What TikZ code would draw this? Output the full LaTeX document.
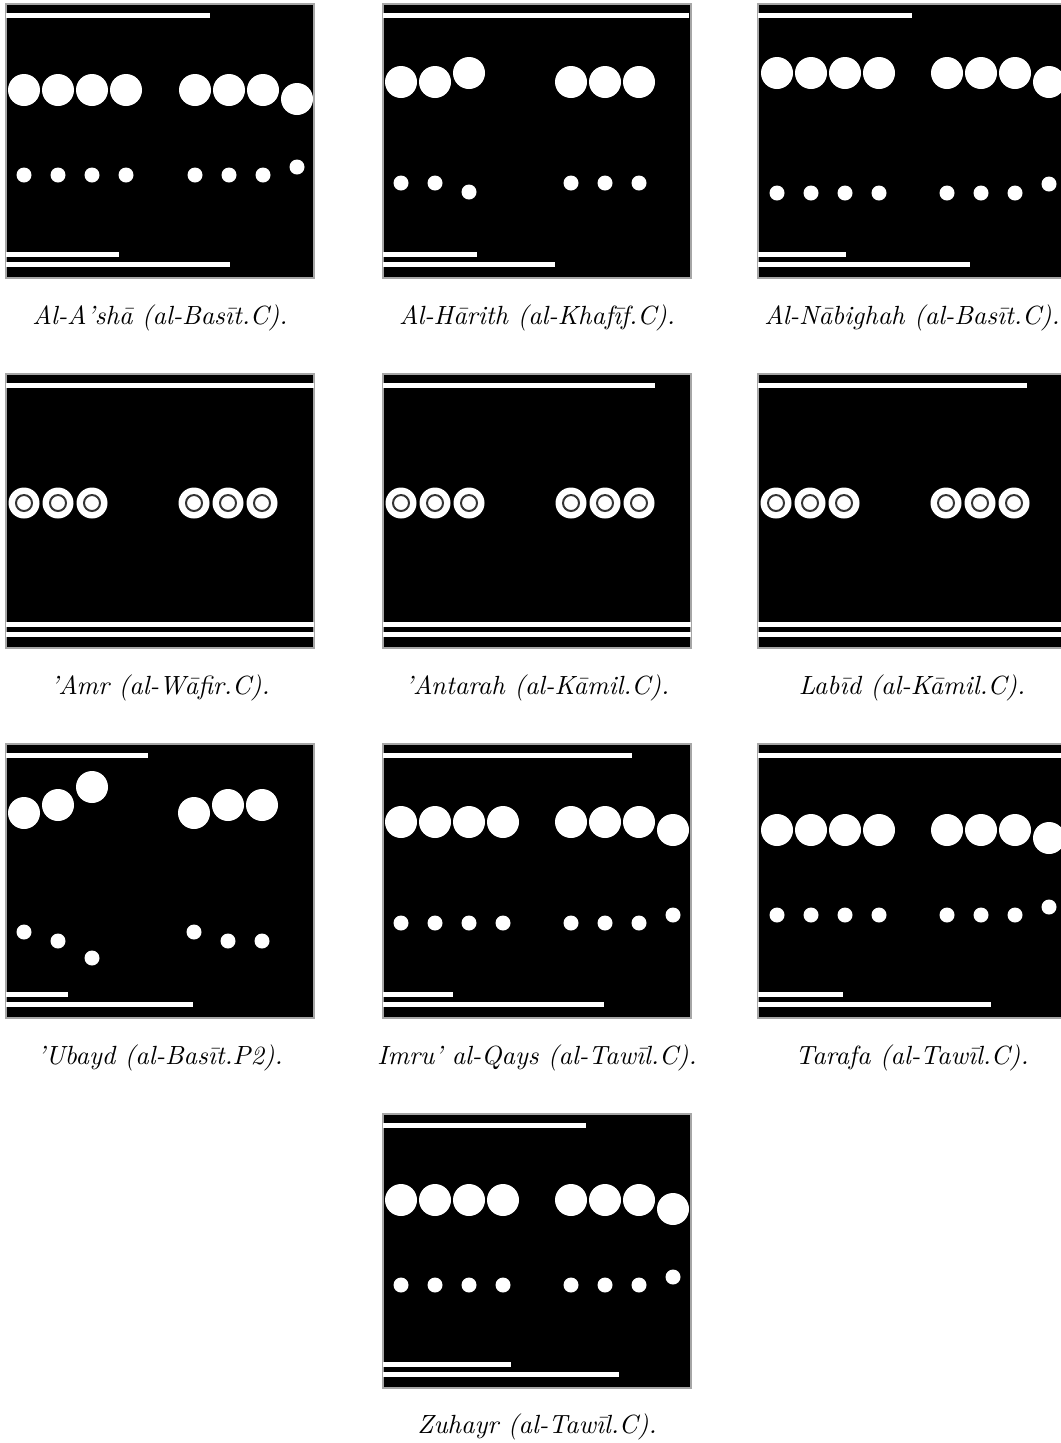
\documentclass[tikz,border=0pt]{standalone}
\usepackage{tikz}
\tikzset{every picture/.style={line width=0.75pt}}
\tikzset{
  mpanel/.style ={fill=black, draw=black!35, line width=0.5pt},
  mbar/.style   ={fill=white},
  mring/.style  ={draw=black!80, line width=0.75pt},
  mcap/.style   ={font=\itshape, inner sep=0pt},
}
% barre dei versi: superiore e due inferiori
\newcommand{\topbar}[1]{\fill[mbar] (0,8.5) rectangle (#1,13.5);}
\newcommand{\lowbars}[2]{\fill[mbar] (0,247.5) rectangle (#1,252.5);
  \fill[mbar] (0,258) rectangle (#2,263);}
\newcommand{\metrepanel}{\path[mpanel] (0,0) rectangle (308,274);}

\begin{document}
\begin{tikzpicture}[x=0.38pt, y=-0.38pt]
  \useasboundingbox (0,0) rectangle (1061,1443);

  % riga 1
  \begin{scope}[shift={(6,4)}]
    \metrepanel \topbar{204}
    \foreach \x/\y in {18/86,52/86,86/86,120/86,189/86,223/86,257/86,291/95}
      \fill[white] (\x,\y) circle (16);
    \foreach \x/\y in {18/171,52/171,86/171,120/171,189/171,223/171,257/171,291/163}
      \fill[white] (\x,\y) circle (7.5);
    \lowbars{113}{224}
  \end{scope}
  \node[mcap] (c1) at (160,318) {Al-A'sh\={a} (al-Bas\={\i}t.C).};

  \begin{scope}[shift={(383,4)}]
    \metrepanel \topbar{306}
    \foreach \x/\y in {18/78,52/78,86/69,188/78,222/78,256/78}
      \fill[white] (\x,\y) circle (16);
    \foreach \x/\y in {18/179,52/179,86/188,188/179,222/179,256/179}
      \fill[white] (\x,\y) circle (7.5);
    \lowbars{94}{172}
  \end{scope}
  \node[mcap] (c2) at (537,318) {Al-H\={a}rith (al-Khaf\={\i}f.C).};

  \begin{scope}[shift={(758,4)}]
    \metrepanel \topbar{154}
    \foreach \x/\y in {19/69,53/69,87/69,121/69,189/69,223/69,257/69,291/78}
      \fill[white] (\x,\y) circle (16);
    \foreach \x/\y in {19/189,53/189,87/189,121/189,189/189,223/189,257/189,291/180}
      \fill[white] (\x,\y) circle (7.5);
    \lowbars{88}{212}
  \end{scope}
  \node[mcap] (c3) at (912,318) {Al-N\={a}bighah (al-Bas\={\i}t.C).};

  % riga 2: anelli
  \foreach \px/\tb in {6/308, 383/272, 758/269}{
    \begin{scope}[shift={(\px,374)}]
      \metrepanel \topbar{\tb}
      \foreach \x in {18,52,86,188,222,256}{
        \fill[white] (\x,129) circle (15.5);
        \draw[mring] (\x,129) circle (8);
      }
      \lowbars{308}{308}
    \end{scope}
  }
  \node[mcap] (c4) at (160,688) {'Amr (al-W\={a}fir.C).};
  \node[mcap] (c5) at (537,688) {'Antarah (al-K\={a}mil.C).};
  \node[mcap] (c6) at (912,688) {Lab\={\i}d (al-K\={a}mil.C).};

  % riga 3
  \begin{scope}[shift={(6,744)}]
    \metrepanel \topbar{142}
    \foreach \x/\y in {18/69,52/61,86/43,188/69,222/61,256/61}
      \fill[white] (\x,\y) circle (16);
    \foreach \x/\y in {18/188,52/197,86/214,188/188,222/197,256/197}
      \fill[white] (\x,\y) circle (7.5);
    \lowbars{62}{187}
  \end{scope}
  \node[mcap] (c7) at (160,1058) {'Ubayd (al-Bas\={\i}t.P2).};

  \begin{scope}[shift={(383,744)}]
    \metrepanel \topbar{249}
    \foreach \x/\y in {18/78,52/78,86/78,120/78,188/78,222/78,256/78,290/86}
      \fill[white] (\x,\y) circle (16);
    \foreach \x/\y in {18/179,52/179,86/179,120/179,188/179,222/179,256/179,290/171}
      \fill[white] (\x,\y) circle (7.5);
    \lowbars{70}{221}
  \end{scope}
  \node[mcap] (c8) at (537,1058) {Imru' al-Qays (al-Taw\={\i}l.C).};

  \begin{scope}[shift={(758,744)}]
    \metrepanel \topbar{308}
    \foreach \x/\y in {19/86,53/86,87/86,121/86,189/86,223/86,257/86,291/94}
      \fill[white] (\x,\y) circle (16);
    \foreach \x/\y in {19/171,53/171,87/171,121/171,189/171,223/171,257/171,291/163}
      \fill[white] (\x,\y) circle (7.5);
    \lowbars{85}{233}
  \end{scope}
  \node[mcap] (c9) at (912,1058) {Tarafa (al-Taw\={\i}l.C).};

  % riga 4
  \begin{scope}[shift={(383,1114)}]
    \metrepanel \topbar{203}
    \foreach \x/\y in {18/86,52/86,86/86,120/86,188/86,222/86,256/86,290/95}
      \fill[white] (\x,\y) circle (16);
    \foreach \x/\y in {18/171,52/171,86/171,120/171,188/171,222/171,256/171,290/163}
      \fill[white] (\x,\y) circle (7.5);
    \lowbars{128}{236}
  \end{scope}
  \node[mcap] (c10) at (537,1427) {Zuhayr (al-Taw\={\i}l.C).};
\end{tikzpicture}
\end{document}
